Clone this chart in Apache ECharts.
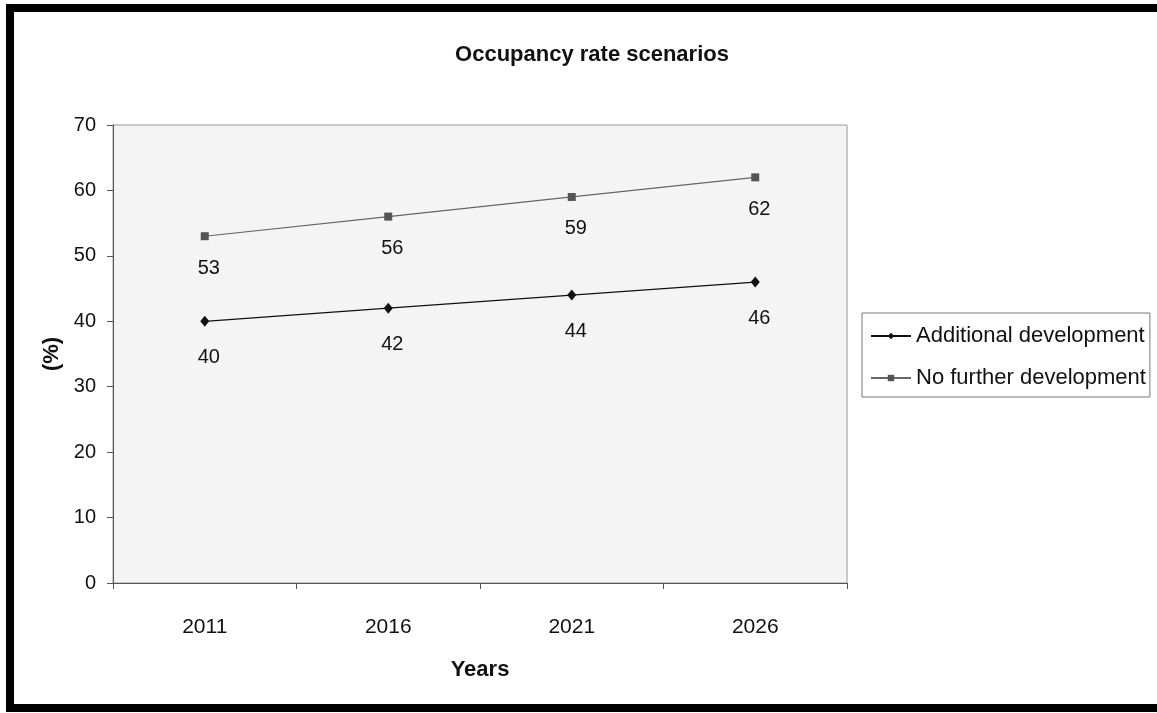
<!DOCTYPE html>
<html>
<head>
<meta charset="utf-8">
<script src="https://cdn.jsdelivr.net/npm/echarts@6/dist/echarts.min.js"></script>
<style>
  html, body { margin: 0; padding: 0; background: #fff; }
  #chart { width: 1157px; height: 713px; }
</style>
</head>
<body>
<div id="chart"></div>
<script>
// Occupancy rate projections by census year
const years = ['2011', '2016', '2021', '2026'];
const additionalDevelopment = [40, 42, 44, 46];
const noFurtherDevelopment = [53, 56, 59, 62];
const yTicks = { min: 0, max: 70, interval: 10 };

const FONT = '"Liberation Sans", Arial, sans-serif';

const chart = echarts.init(document.getElementById('chart'), null, { renderer: 'canvas' });

chart.setOption({
  animation: false,
  backgroundColor: '#ffffff',
  textStyle: { fontFamily: FONT },
  graphic: [
    {
      // heavy black frame around the chart
      type: 'rect',
      z: 100,
      shape: { x: 10, y: 8, width: 1200, height: 700 },
      style: { fill: 'none', stroke: '#000', lineWidth: 8 }
    }
  ],
  title: {
    text: 'Occupancy rate scenarios',
    left: 587,
    top: 39,
    textAlign: 'center',
    textStyle: { fontFamily: FONT, fontSize: 22, fontWeight: 'bold', color: '#111' }
  },
  legend: {
    orient: 'vertical',
    left: 862,
    top: 313,
    padding: [12, 4, 8, 8],
    itemGap: 20,
    itemWidth: 40,
    itemHeight: 8,
    borderColor: '#777',
    borderWidth: 1,
    backgroundColor: '#fff',
    textStyle: { fontFamily: FONT, fontSize: 22, color: '#111' },
    data: ['Additional development', 'No further development']
  },
  grid: {
    left: 113,
    top: 125,
    width: 734,
    height: 458,
    show: true,
    backgroundColor: '#f4f4f4',
    borderColor: '#9a9a9a',
    borderWidth: 1
  },
  xAxis: {
    type: 'category',
    data: years,
    boundaryGap: true,
    name: 'Years',
    nameLocation: 'middle',
    nameGap: 76,
    nameTextStyle: { fontFamily: FONT, fontSize: 22, fontWeight: 'bold', color: '#111' },
    axisLine: { lineStyle: { color: '#555', width: 1 } },
    axisTick: { show: true, length: 6, lineStyle: { color: '#555' } },
    axisLabel: { fontFamily: FONT, fontSize: 21, color: '#111', margin: 34 },
    splitLine: { show: false }
  },
  yAxis: {
    type: 'value',
    min: yTicks.min,
    max: yTicks.max,
    interval: yTicks.interval,
    name: '(%)',
    nameLocation: 'middle',
    nameGap: 50,
    nameRotate: 90,
    nameTextStyle: { fontFamily: FONT, fontSize: 22, fontWeight: 'bold', color: '#111' },
    axisLine: { show: true, lineStyle: { color: '#555', width: 1 } },
    axisTick: { show: true, length: 6, lineStyle: { color: '#555' } },
    axisLabel: { fontFamily: FONT, fontSize: 20, color: '#111', margin: 17 },
    splitLine: { show: false }
  },
  series: [
    {
      name: 'Additional development',
      type: 'line',
      data: additionalDevelopment,
      symbol: 'diamond',
      symbolSize: [9, 11],
      itemStyle: { color: '#111' },
      lineStyle: { color: '#111', width: 1.3 },
      label: {
        show: true,
        position: 'bottom',
        distance: 21,
        offset: [4, 0],
        fontFamily: FONT,
        fontSize: 20,
        color: '#111'
      }
    },
    {
      name: 'No further development',
      type: 'line',
      data: noFurtherDevelopment,
      symbol: 'rect',
      symbolSize: 8,
      itemStyle: { color: '#555' },
      lineStyle: { color: '#666', width: 1.2 },
      label: {
        show: true,
        position: 'bottom',
        distance: 18,
        offset: [4, 0],
        fontFamily: FONT,
        fontSize: 20,
        color: '#111'
      }
    }
  ]
});
</script>
</body>
</html>
